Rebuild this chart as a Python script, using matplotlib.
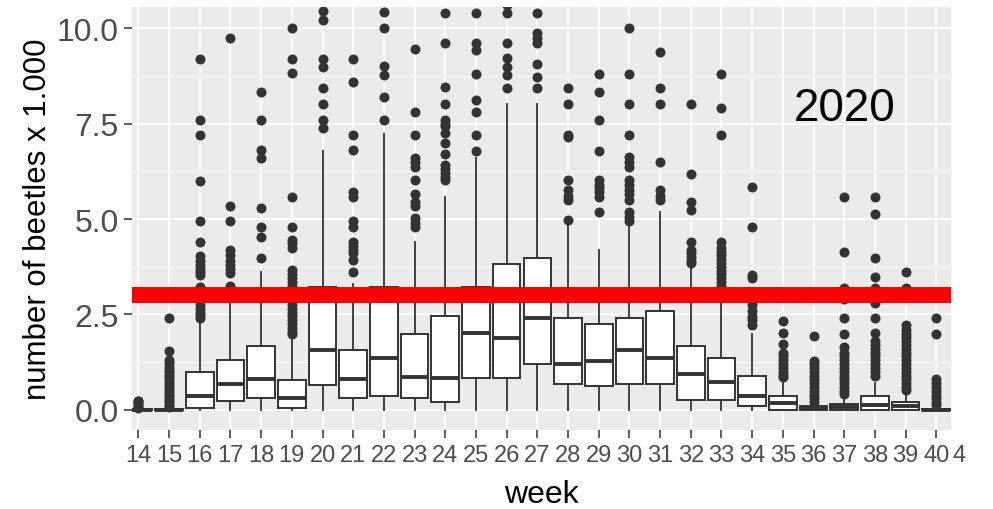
import matplotlib
matplotlib.use("Agg")
import matplotlib.pyplot as plt
from matplotlib.ticker import MultipleLocator

plt.rcParams['font.family'] = ['Liberation Sans', 'DejaVu Sans']

# weekly beetle counts (x 1.000), box statistics
weeks = list(range(14, 41))
q1 = [0, 0, 0.06, 0.22, 0.32, 0.06, 0.64, 0.32, 0.37, 0.32, 0.20, 0.83, 0.83, 1.20,
      0.67, 0.63, 0.67, 0.67, 0.26, 0.26, 0.10, 0.0, 0.0, 0.0, 0.0, 0.0, 0.0]
med = [0, 0, 0.37, 0.68, 0.80, 0.32, 1.58, 0.80, 1.35, 0.85, 0.83, 2.01, 1.88, 2.42,
       1.20, 1.27, 1.57, 1.37, 0.94, 0.74, 0.37, 0.17, 0.05, 0.07, 0.13, 0.11, 0.0]
q3 = [0.01, 0.02, 1.00, 1.31, 1.68, 0.79, 3.21, 1.57, 3.21, 1.98, 2.46, 3.21, 3.82, 3.99,
      2.42, 2.25, 2.40, 2.58, 1.68, 1.37, 0.89, 0.37, 0.10, 0.16, 0.37, 0.20, 0.02]
whislo = [0.0] * 27
whishi = [0.03, 0.04, 2.27, 2.90, 3.61, 1.88, 6.79, 3.30, 7.23, 4.39, 5.59, 6.59, 8.01, 8.01,
          4.90, 4.19, 4.90, 5.18, 3.75, 2.90, 1.98, 0.83, 0.15, 0.35, 0.70, 0.45, 0.05]

outliers = [
    [0.04, 0.08, 0.12, 0.17, 0.22, 0.24],                                      # 14
    [2.41, 1.55, 1.30, 1.22, 1.12, 1.05, 0.98, 0.92, 0.85, 0.78, 0.70, 0.62,
     0.55, 0.48, 0.40, 0.33, 0.26, 0.20, 0.14, 0.08],                          # 15
    [9.20, 7.59, 7.20, 6.00, 4.96, 4.39, 4.02, 3.90, 3.80, 3.70, 3.60, 3.54,
     3.23, 3.15, 3.05, 2.95, 2.85, 2.75, 2.65, 2.55, 2.48, 2.41],              # 16
    [9.74, 5.34, 4.96, 4.19, 4.05, 3.90, 3.80, 3.70, 3.58, 3.25, 3.10, 3.00],  # 17
    [8.32, 7.59, 6.81, 6.59, 5.28, 4.80, 4.54, 3.99],                          # 18
    [10.0, 9.20, 8.84, 5.59, 4.80, 4.45, 4.38, 4.24, 3.67, 3.55, 3.45, 3.35,
     3.25, 3.15, 3.05, 2.95, 2.85, 2.75, 2.65, 2.55, 2.45, 2.35, 2.25, 2.15,
     2.05, 2.00],                                                              # 19
    [10.44, 10.22, 9.20, 8.99, 8.43, 8.01, 7.59, 7.38],                        # 20
    [9.20, 8.58, 7.20, 6.81, 5.72, 5.59, 4.96, 4.80, 4.39, 4.30, 4.20, 4.10,
     3.93, 3.62],                                                              # 21
    [10.42, 10.0, 9.02, 8.78, 8.21, 7.59],                                     # 22
    [9.47, 7.80, 7.20, 6.61, 6.50, 6.37, 6.03, 5.65, 5.45, 5.33, 5.02, 4.90,
     4.80],                                                                    # 23
    [10.41, 9.62, 8.47, 8.01, 7.60, 7.50, 7.43, 7.25, 7.00, 6.71, 6.42, 6.30,
     6.20, 6.10, 6.03],                                                        # 24
    [10.41, 9.62, 9.43, 8.80, 8.12, 7.80, 7.20, 6.79],                         # 25
    [10.60, 10.41, 9.62, 9.21, 8.99, 8.78, 8.43],                              # 26
    [10.41, 9.87, 9.75, 9.62, 9.07, 8.73, 8.43],                               # 27
    [8.43, 8.01, 7.20, 7.16, 6.03, 5.75, 5.60, 5.50, 4.98],                    # 28
    [8.80, 8.32, 7.60, 6.79, 6.03, 5.90, 5.81, 5.70, 5.59, 5.18],              # 29
    [10.0, 8.80, 8.01, 7.20, 6.63, 6.50, 6.37, 6.03, 5.90, 5.76, 5.65, 5.50,
     5.18, 5.05, 4.95],                                                        # 30
    [9.37, 8.43, 8.01, 6.49, 5.76, 5.60, 5.50],                                # 31
    [8.01, 6.18, 5.46, 5.25, 4.39, 4.19, 4.10, 4.00, 3.90, 3.84],              # 32
    [8.80, 7.90, 7.20, 4.39, 4.25, 4.15, 4.05, 3.95, 3.85, 3.75, 3.65, 3.55,
     3.45, 3.35, 3.25, 3.15, 3.05],                                            # 33
    [5.85, 4.80, 3.54, 3.45, 3.10, 3.00, 2.90, 2.75, 2.60, 2.44, 2.35, 2.23],  # 34
    [2.34, 2.01, 1.72, 1.49, 1.40, 1.30, 1.20, 1.10, 1.00, 0.92, 0.87],        # 35
    [1.94, 1.27, 1.20, 1.10, 1.00, 0.90, 0.80, 0.70, 0.60, 0.50, 0.40, 0.30,
     0.20],                                                                    # 36
    [5.59, 4.13, 3.20, 3.10, 3.00, 2.90, 2.41, 1.98, 1.66, 1.50, 1.40, 1.30,
     1.20, 1.10, 1.00, 0.90, 0.80, 0.70, 0.60, 0.50, 0.42],                    # 37
    [5.59, 5.13, 3.97, 3.47, 3.20, 3.10, 3.00, 2.90, 2.80, 2.41, 2.01, 1.80,
     1.70, 1.60, 1.50, 1.40, 1.30, 1.20, 1.10, 1.00, 0.90],                    # 38
    [3.61, 3.20, 2.23, 2.10, 2.00, 1.90, 1.80, 1.70, 1.60, 1.50, 1.40, 1.30,
     1.20, 1.10, 1.00, 0.90, 0.80, 0.70, 0.60, 0.52],                          # 39
    [2.41, 1.98, 0.81, 0.70, 0.60, 0.50, 0.40, 0.30, 0.20, 0.12],              # 40
]

threshold = 3.0
year_label = "2020"

stats = []
for i in range(len(weeks)):
    stats.append(dict(med=med[i], q1=q1[i], q3=q3[i], whislo=whislo[i],
                      whishi=whishi[i], fliers=outliers[i]))

fig = plt.figure(figsize=(9.93, 5.10), dpi=100)
ax = fig.add_axes([132.3 / 993, 1 - 430.7 / 510, (951 - 132.3) / 993, (430.7 - 8.3) / 510])
ax.set_facecolor('#EBEBEB')

ink = '#333333'
ax.bxp(stats, positions=weeks, widths=0.9, patch_artist=True, showcaps=False,
       manage_ticks=False,
       boxprops=dict(facecolor='white', edgecolor=ink, linewidth=1.4),
       medianprops=dict(color=ink, linewidth=2.8, solid_capstyle='butt'),
       whiskerprops=dict(color=ink, linewidth=1.3),
       flierprops=dict(marker='o', markerfacecolor=ink, markeredgecolor=ink,
                       markersize=7.2, markeredgewidth=0))

ax.axhline(threshold, color='#FF0000', linewidth=11.5, zorder=5)
ax.text(37, 7.9, year_label, fontsize=33, ha='center', va='center', color='black')

ax.set_xlim(13.80, 40.48)
ax.set_ylim(-0.52, 10.55)
ax.set_xticks(weeks)
ax.set_xticklabels([str(w) for w in weeks], fontsize=17, color='#4D4D4D')
ax.yaxis.set_major_locator(MultipleLocator(2.5))
ax.yaxis.set_minor_locator(MultipleLocator(1.25))
ax.set_yticks([0, 2.5, 5, 7.5, 10])
ax.set_yticklabels(['0.0', '2.5', '5.0', '7.5', '10.0'], fontsize=23, color='#4D4D4D')

ax.tick_params(axis='both', which='major', length=5.5, width=1.1, color=ink)
ax.tick_params(axis='y', which='major', pad=4.3)
ax.tick_params(axis='x', which='major', pad=5)
ax.tick_params(axis='y', which='minor', length=0)

# the next label is cut off at the panel edge in the original
fig.canvas.draw()
lab_y = ax.get_xticklabels()[-1].get_window_extent().y1
lab_y = ax.transAxes.inverted().transform((0, lab_y))[1]
ax.text(40.75, lab_y, "4", transform=ax.get_xaxis_transform(), ha='center', va='top',
        fontsize=17, color='#4D4D4D', clip_on=False)

ax.grid(True, which='major', color='white', linewidth=1.4)
ax.grid(True, which='minor', axis='y', color='white', linewidth=0.7)
ax.set_axisbelow(True)
for s in ax.spines.values():
    s.set_visible(False)

ax.set_ylabel('number of beetles x 1.000', fontsize=22.5, color='black', va='center')
ax.yaxis.set_label_coords(-0.1152, 0.5)
ax.set_xlabel('week', fontsize=23, color='black', va='baseline')
ax.xaxis.set_label_coords(0.5, -0.171)

fig.savefig('out.png', dpi=100)
